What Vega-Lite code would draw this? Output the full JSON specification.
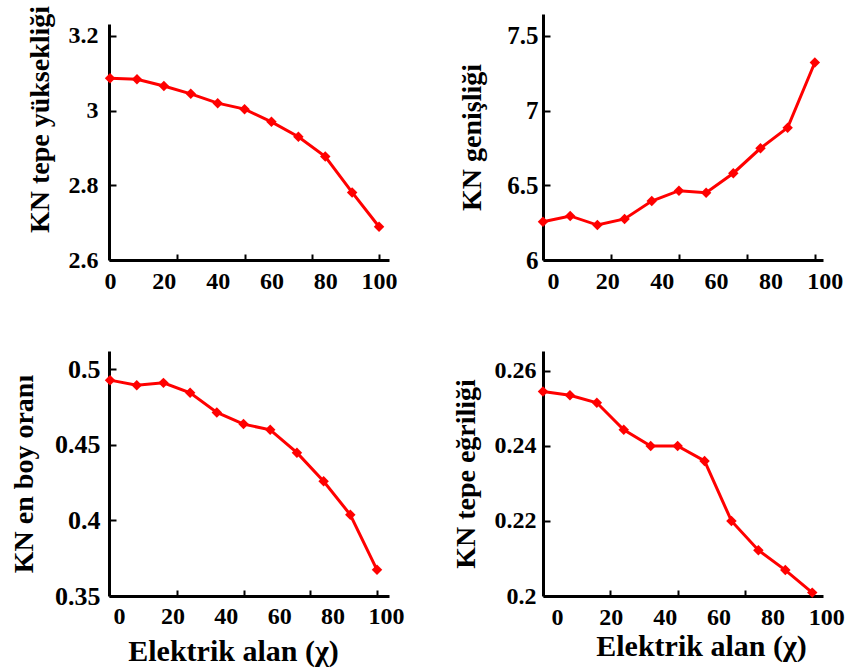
{
  "$schema": "https://vega.github.io/schema/vega-lite/v6.json",
  "background": "white",
  "padding": {"left": 10, "top": 5, "right": 5, "bottom": 5},
  "config": {
    "view": {"stroke": null},
    "font": "Liberation Serif",
    "axis": {
      "labelFont": "Liberation Serif", "labelFontSize": 24, "labelFontWeight": "bold", "labelColor": "black",
      "titleFont": "Liberation Serif", "titleFontSize": 28, "titleFontWeight": "bold", "titleColor": "black",
      "domainColor": "black", "domainWidth": 3, "tickColor": "black", "tickWidth": 2, "grid": false
    }
  },
  "columns": 2,
  "spacing": {"row": 58, "column": 48},
  "concat": [
    {
      "width": 280, "height": 246,
      "data": {"values": [
        {"x": 0, "y": 3.087}, {"x": 10, "y": 3.084}, {"x": 20, "y": 3.066}, {"x": 30, "y": 3.045},
        {"x": 40, "y": 3.020}, {"x": 50, "y": 3.004}, {"x": 60, "y": 2.970}, {"x": 70, "y": 2.930},
        {"x": 80, "y": 2.877}, {"x": 90, "y": 2.781}, {"x": 100, "y": 2.689}
      ]},
      "layer": [
        {
          "mark": {"type": "line", "color": "#ff0000", "strokeWidth": 3, "clip": false},
          "encoding": {
            "x": {"field": "x", "type": "quantitative", "scale": {"domain": [-0.4, 103.7], "nice": false, "zero": false},
                  "axis": {"values": [0, 20, 40, 60, 80, 100], "ticks": false, "labelFlush": false, "labelPadding": 9, "title": null}},
            "y": {"field": "y", "type": "quantitative", "scale": {"domain": [2.6, 3.232], "range": [246, 10], "nice": false, "zero": false},
                  "axis": {"values": [2.6, 2.8, 3, 3.2], "format": "~g", "tickSize": -7, "labelPadding": 18, "title": "KN tepe yüksekliği", "titleY": 105, "titlePadding": 14}}
          }
        },
        {
          "mark": {"type": "point", "shape": "diamond", "filled": true, "color": "#ff0000", "size": 110, "opacity": 1, "clip": false},
          "encoding": {
            "x": {"field": "x", "type": "quantitative", "axis": {"values": [25, 50, 75, 100], "labels": false, "domain": false, "tickSize": -6, "orient": "bottom", "title": null}},
            "y": {"field": "y", "type": "quantitative"}
          }
        }
      ],
      "resolve": {"axis": {"x": "independent"}}
    },
    {
      "width": 280, "height": 246,
      "data": {"values": [
        {"x": 0, "y": 6.256}, {"x": 10, "y": 6.295}, {"x": 20, "y": 6.234}, {"x": 30, "y": 6.275},
        {"x": 40, "y": 6.395}, {"x": 50, "y": 6.464}, {"x": 60, "y": 6.451}, {"x": 70, "y": 6.581},
        {"x": 80, "y": 6.748}, {"x": 90, "y": 6.886}, {"x": 100, "y": 7.322}
      ]},
      "layer": [
        {
          "mark": {"type": "line", "color": "#ff0000", "strokeWidth": 3, "clip": false},
          "encoding": {
            "x": {"field": "x", "type": "quantitative", "scale": {"domain": [0, 103], "nice": false, "zero": false},
                  "axis": {"values": [0, 20, 40, 60, 80, 100], "ticks": false, "labelFlush": false, "labelPadding": 9, "labelOffset": 10, "title": null}},
            "y": {"field": "y", "type": "quantitative", "scale": {"domain": [6, 7.647], "nice": false, "zero": false},
                  "axis": {"values": [6, 6.5, 7, 7.5], "format": "~g", "tickSize": -7, "labelPadding": 12, "labelFontSize": 25, "title": "KN genişliği", "titlePadding": 20}}
          }
        },
        {
          "mark": {"type": "point", "shape": "diamond", "filled": true, "color": "#ff0000", "size": 110, "opacity": 1, "clip": false},
          "encoding": {
            "x": {"field": "x", "type": "quantitative", "axis": {"values": [25, 50, 75, 100], "labels": false, "domain": false, "tickSize": -6, "orient": "bottom", "title": null}},
            "y": {"field": "y", "type": "quantitative"}
          }
        }
      ],
      "resolve": {"axis": {"x": "independent"}}
    },
    {
      "width": 280, "height": 245,
      "data": {"values": [
        {"x": 0, "y": 0.4929}, {"x": 10, "y": 0.4895}, {"x": 20, "y": 0.4911}, {"x": 30, "y": 0.4845},
        {"x": 40, "y": 0.4715}, {"x": 50, "y": 0.4638}, {"x": 60, "y": 0.4600}, {"x": 70, "y": 0.4449},
        {"x": 80, "y": 0.4260}, {"x": 90, "y": 0.4038}, {"x": 100, "y": 0.3673}
      ]},
      "layer": [
        {
          "mark": {"type": "line", "color": "#ff0000", "strokeWidth": 3, "clip": false},
          "encoding": {
            "x": {"field": "x", "type": "quantitative", "scale": {"domain": [-0.4, 104.5], "nice": false, "zero": false},
                  "axis": {"values": [0, 20, 40, 60, 80, 100], "ticks": false, "labelFlush": false, "labelPadding": 8, "labelOffset": 9, "title": "Elektrik alan (χ)", "titleFontSize": 30, "titleX": 124, "titlePadding": 8}},
            "y": {"field": "y", "type": "quantitative", "scale": {"domain": [0.35, 0.5122], "nice": false, "zero": false},
                  "axis": {"values": [0.35, 0.4, 0.45, 0.5], "format": "~g", "tickSize": -7, "labelPadding": 16, "labelFontSize": 26, "title": "KN en boy oranı", "titlePadding": 16}}
          }
        },
        {
          "mark": {"type": "point", "shape": "diamond", "filled": true, "color": "#ff0000", "size": 110, "opacity": 1, "clip": false},
          "encoding": {
            "x": {"field": "x", "type": "quantitative", "axis": {"values": [25, 50, 75, 100], "labels": false, "domain": false, "tickSize": -6, "orient": "bottom", "title": null}},
            "y": {"field": "y", "type": "quantitative"}
          }
        }
      ],
      "resolve": {"axis": {"x": "independent"}}
    },
    {
      "width": 280, "height": 245,
      "data": {"values": [
        {"x": 0, "y": 0.2545}, {"x": 10, "y": 0.2535}, {"x": 20, "y": 0.2515}, {"x": 30, "y": 0.2443},
        {"x": 40, "y": 0.2400}, {"x": 50, "y": 0.2400}, {"x": 60, "y": 0.2360}, {"x": 70, "y": 0.2200},
        {"x": 80, "y": 0.2122}, {"x": 90, "y": 0.2069}, {"x": 100, "y": 0.2009}
      ]},
      "layer": [
        {
          "mark": {"type": "line", "color": "#ff0000", "strokeWidth": 3, "clip": false},
          "encoding": {
            "x": {"field": "x", "type": "quantitative", "scale": {"domain": [0, 104], "nice": false, "zero": false},
                  "axis": {"values": [0, 20, 40, 60, 80, 100], "ticks": false, "labelFlush": false, "labelPadding": 9, "labelOffset": 14, "title": "Elektrik alan (χ)", "titleFontSize": 30, "titleX": 158, "titlePadding": 2}},
            "y": {"field": "y", "type": "quantitative", "scale": {"domain": [0.2, 0.2653], "nice": false, "zero": false},
                  "axis": {"values": [0.2, 0.22, 0.24, 0.26], "format": "~g", "tickSize": -7, "labelPadding": 14, "title": "KN tepe eğriliği", "titlePadding": 14}}
          }
        },
        {
          "mark": {"type": "point", "shape": "diamond", "filled": true, "color": "#ff0000", "size": 110, "opacity": 1, "clip": false},
          "encoding": {
            "x": {"field": "x", "type": "quantitative", "axis": {"values": [25, 50, 75, 100], "labels": false, "domain": false, "tickSize": -6, "orient": "bottom", "title": null}},
            "y": {"field": "y", "type": "quantitative"}
          }
        }
      ],
      "resolve": {"axis": {"x": "independent"}}
    }
  ]
}
